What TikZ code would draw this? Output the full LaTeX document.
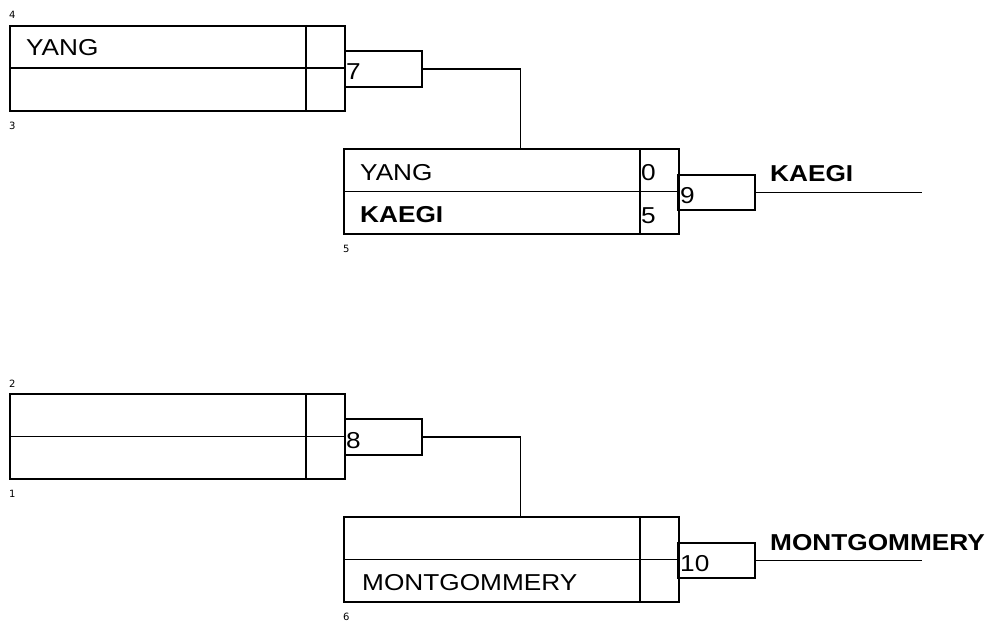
\documentclass[tikz,border=0pt]{standalone}
\usepackage{fontspec}
\usepackage{tikz}
\usetikzlibrary{positioning}
\newfontfamily\bracketfont[FakeStretch=1.14]{Liberation Sans}
\newfontfamily\seedfont{DejaVu Sans}

\tikzset{
    slotBox/.style={draw=black, line width=1.8pt, minimum width=335pt, minimum height=85pt, anchor=north west, inner sep=0pt},
    gameBox/.style={draw=black, line width=1.8pt, minimum width=77pt, minimum height=36pt, anchor=north west, inner sep=0pt},
    teamName/.style={anchor=base west, inner sep=0pt, font=\bracketfont\fontsize{23pt}{25pt}\selectfont},
    winnerName/.style={teamName, font=\bracketfont\fontsize{23pt}{25pt}\selectfont\bfseries},
    seedNum/.style={anchor=base west, inner sep=0pt, font=\seedfont\fontsize{10pt}{12pt}\selectfont},
    wire/.style={black, line width=1.8pt}
}

\begin{document}
\begin{tikzpicture}[x=1pt, y=-1pt]
\useasboundingbox (0,0) rectangle (990,623);

\node[slotBox] (slotFour) at (9,25) {};
\draw[wire] (slotFour.west) -- (slotFour.east);
\draw[wire] ([xshift=-40pt]slotFour.north east) -- ([xshift=-40pt]slotFour.south east);
\node[teamName] (yangFirst) at (26,56) {YANG};
\node[seedNum] (seedFour) at (9,19) {4};
\node[seedNum] (seedThree) at (9,129) {3};

\node[gameBox] (gameSeven) at (344,50) {};
\node[teamName] (numSeven) at (346,80) {7};

\node[slotBox] (slotFive) at (343,148) {};
\draw[wire] (slotFive.west) -- (slotFive.east);
\draw[wire] ([xshift=-40pt]slotFive.north east) -- ([xshift=-40pt]slotFive.south east);
\node[teamName] (yangSecond) at (360,180) {YANG};
\node[teamName] (scoreYang) at (641,180) {0};
\node[winnerName] (kaegiSlot) at (360,222) {KAEGI};
\node[teamName] (scoreKaegi) at (641,223) {5};
\node[seedNum] (seedFive) at (343,252) {5};

\node[gameBox, minimum height=35pt] (gameNine) at (677,174) {};
\node[teamName] (numNine) at (680,203) {9};
\node[winnerName] (kaegiWin) at (770,181) {KAEGI};
\coordinate (kaegiEnd) at (922,190);

\draw[wire] (gameSeven.east) -| ([xshift=9pt]slotFive.north);
\draw[wire] (gameNine.east) -- (gameNine.east -| kaegiEnd);

\node[slotBox] (slotTwo) at (9,393) {};
\draw[wire] (slotTwo.west) -- (slotTwo.east);
\draw[wire] ([xshift=-40pt]slotTwo.north east) -- ([xshift=-40pt]slotTwo.south east);
\node[seedNum] (seedTwo) at (9,387) {2};
\node[seedNum] (seedOne) at (9,497) {1};

\node[gameBox] (gameEight) at (344,418) {};
\node[teamName] (numEight) at (346,448) {8};

\node[slotBox] (slotSix) at (343,516) {};
\draw[wire] (slotSix.west) -- (slotSix.east);
\draw[wire] ([xshift=-40pt]slotSix.north east) -- ([xshift=-40pt]slotSix.south east);
\node[teamName] (montSlot) at (362,590) {MONTGOMMERY};
\node[seedNum] (seedSix) at (343,620) {6};

\node[gameBox, minimum height=35pt] (gameTen) at (677,542) {};
\node[teamName] (numTen) at (680,571) {10};
\node[winnerName] (montWin) at (770,550) {MONTGOMMERY};
\coordinate (montEnd) at (922,559);

\draw[wire] (gameEight.east) -| ([xshift=9pt]slotSix.north);
\draw[wire] (gameTen.east) -- (gameTen.east -| montEnd);

\end{tikzpicture}
\end{document}
